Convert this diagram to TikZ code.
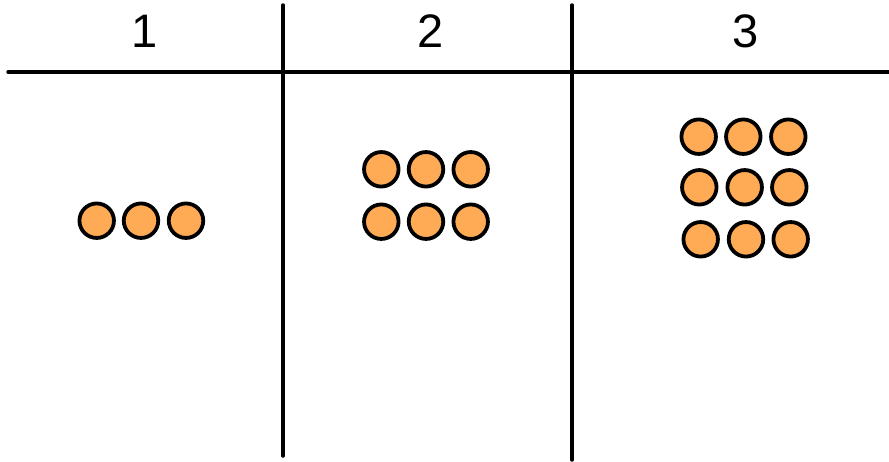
\documentclass[tikz,border=0pt]{standalone}
\usepackage{fontspec}
\setmainfont{Liberation Sans}
\definecolor{dotorange}{RGB}{255,170,85}
\begin{document}
\begin{tikzpicture}[x=1pt, y=-1pt,
  dot/.style={draw, circle, line width=3.8pt, fill=dotorange, minimum size=34.5pt, inner sep=0pt},
  num/.style={font=\fontsize{47}{47}\selectfont, inner sep=0pt, anchor=base}]
\useasboundingbox (0,0) rectangle (889,461);

% table frame
\draw[line width=3.5pt, line cap=round] (8,72)--(889,72);
\draw[line width=3.5pt, line cap=round] (283,5)--(283,456);
\draw[line width=3.5pt, line cap=round] (572,5)--(572,460);

% column heads
\node[num] (h1) at (145,47) {1};
\node[num] (h2) at (431,47) {2};
\node[num] (h3) at (746,47) {3};

% column 1
\node[dot] (a1) at (96.7,220.7) {};
\node[dot] (a2) at (141,220.7) {};
\node[dot] (a3) at (186,220.7) {};

% column 2
\node[dot] (b1) at (381.3,169.3) {};
\node[dot] (b2) at (426,169.3) {};
\node[dot] (b3) at (470.7,169.3) {};
\node[dot] (b4) at (381.3,221.7) {};
\node[dot] (b5) at (426,221.7) {};
\node[dot] (b6) at (470.7,221.7) {};

% column 3
\node[dot] (c1) at (698.7,136.7) {};
\node[dot] (c2) at (743.3,136.7) {};
\node[dot] (c3) at (788.3,136.7) {};
\node[dot] (c4) at (699.3,187.3) {};
\node[dot] (c5) at (744.7,187.3) {};
\node[dot] (c6) at (789.3,187.3) {};
\node[dot] (c7) at (700.7,239.3) {};
\node[dot] (c8) at (746,239.3) {};
\node[dot] (c9) at (790.7,239.3) {};
\end{tikzpicture}
\end{document}
